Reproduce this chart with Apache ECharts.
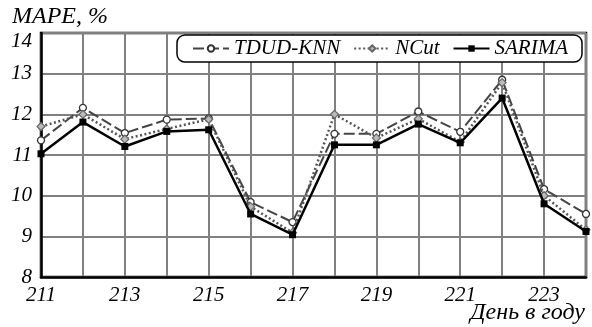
<!DOCTYPE html>
<html><head><meta charset="utf-8">
<script src="https://cdn.jsdelivr.net/npm/echarts@6/dist/echarts.min.js"></script>
<style>html,body{margin:0;padding:0;background:#fff}#c{width:592px;height:327px}</style>
</head><body><div id="c"></div>
<script>
const days = [211,212,213,214,215,216,217,218,219,220,221,222,223,224];
const tdudKnn = [11.36,12.16,11.54,11.87,11.90,9.84,9.35,11.52,11.52,12.07,11.57,12.85,10.16,9.55];
const nCut    = [11.70,12.00,11.39,11.64,11.88,9.73,9.09,12.00,11.42,11.89,11.32,12.78,10.00,9.16];
const sarima  = [11.03,11.81,11.21,11.58,11.62,9.55,9.04,11.25,11.25,11.76,11.30,12.40,9.80,9.12];
const yTicks = [8,9,10,11,12,13,14];

const pairs = arr => days.map((d,i)=>[d, arr[i]]);
const font = 'Liberation Serif';
const chart = echarts.init(document.getElementById('c'));
chart.setOption({
  animation:false,
  backgroundColor:'#fff',
  grid:{left:41,right:6,top:33,bottom:50,containLabel:false,outerBoundsMode:'none',show:true,borderColor:'#000',borderWidth:2.5,backgroundColor:'transparent'},
  legend:{
    right:10, top:35, padding:[3,14,3,15], itemGap:13, itemWidth:36, itemHeight:8,
    backgroundColor:'#fff', borderColor:'#000', borderWidth:1.5, borderRadius:8,
    textStyle:{fontFamily:font, fontStyle:'italic', fontSize:21, color:'#000'},
    data:['TDUD-KNN','NCut','SARIMA']
  },
  graphic:[{type:'text',right:7,bottom:2,style:{text:'День в году',font:'italic 24px Liberation Serif',fill:'#000'}}],
  xAxis:{
    type:'value', min:211, max:224, interval:1,
    axisLine:{show:true,lineStyle:{color:'#000',width:2.5}},
    axisTick:{show:false},
    splitLine:{show:true,lineStyle:{color:'#808080',width:2}},
    axisLabel:{margin:8,fontFamily:font,fontStyle:'italic',fontSize:21,color:'#000',
      formatter:v=> (v%2===1? String(v):'')}
  },
  yAxis:{
    type:'value', min:8, max:14, interval:1,
    axisLine:{show:true,lineStyle:{color:'#000',width:2.5}},
    axisTick:{show:false},
    splitLine:{show:true,lineStyle:{color:'#808080',width:2}},
    axisLabel:{margin:9,fontFamily:font,fontStyle:'italic',fontSize:21,color:'#000',
      formatter:v=> v===14 ? '{t|14}' : (yTicks.includes(v)? String(v):''),
      rich:{t:{fontFamily:font,fontStyle:'italic',fontSize:21,color:'#000',padding:[16,0,0,0]}}},
    name:'MAPE, %', nameLocation:'end', nameGap:4,
    nameTextStyle:{fontFamily:font,fontStyle:'italic',fontSize:24,color:'#000',align:'left',padding:[0,0,0,-29]}
  },
  series:[
    {name:'TDUD-KNN',type:'line',data:pairs(tdudKnn),symbol:'circle',symbolSize:7,z:3,
     lineStyle:{color:'#444',width:2,type:[11,4]},
     itemStyle:{color:'#fff',borderColor:'#333',borderWidth:1.3}},
    {name:'NCut',type:'line',data:pairs(nCut),symbol:'diamond',symbolSize:8,z:4,
     lineStyle:{color:'#555',width:2.5,type:[2,2.5]},
     itemStyle:{color:'#bbb',borderColor:'#666',borderWidth:1.2}},
    {name:'SARIMA',type:'line',data:pairs(sarima),symbol:'rect',symbolSize:7,z:5,
     lineStyle:{color:'#000',width:2.5},
     itemStyle:{color:'#000',borderColor:'#000',borderWidth:0}}
  ]
});
</script></body></html>
